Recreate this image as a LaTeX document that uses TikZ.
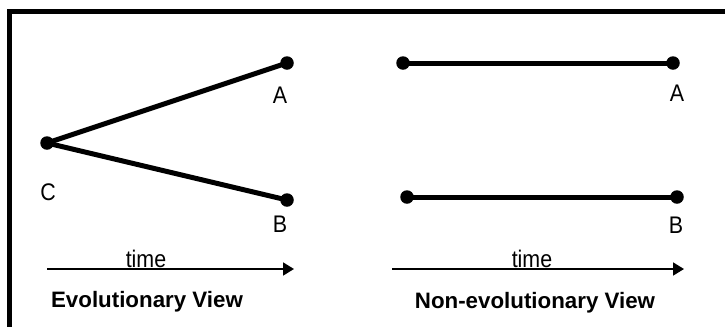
\documentclass[tikz,border=0pt]{standalone}
\usepackage{fontspec}
\setmainfont{Liberation Sans}
\usetikzlibrary{arrows.meta}
\newcommand{\tallt}[1]{\scalebox{1}[1.12]{#1}}
\begin{document}
\begin{tikzpicture}[x=1bp,y=-1bp,
  dot/.style={circle,fill=black,inner sep=0pt,minimum size=13.5bp},
  edge/.style={line width=5bp},
  lbl/.style={inner sep=0pt,anchor=base,font=\fontsize{21.5}{24}\selectfont},
  ttl/.style={inner sep=0pt,anchor=base,font=\fontsize{22.4}{26}\selectfont\bfseries},
  timearrow/.style={line width=1.8bp,-{Triangle[length=11bp,width=13bp]}}]
\useasboundingbox (0,0) rectangle (725,326);
\clip (0,0) rectangle (725,326);
\fill[white] (0,0) rectangle (725,326);
% frame (right and bottom sides lie outside the picture)
\draw[line width=5bp] (9.5,340) -- (9.5,11.5) -- (740,11.5);
% evolutionary view
\node[dot] (C) at (47,143) {};
\node[dot] (A1) at (287,63) {};
\node[dot] (B1) at (287,200) {};
\draw[edge] (C.center) -- (A1.center);
\draw[edge] (C.center) -- (B1.center);
\node[lbl] (lC) at (48,200) {\tallt{C}};
\node[lbl] (lA1) at (280,103) {\tallt{A}};
\node[lbl] (lB1) at (280,232) {\tallt{B}};
% non-evolutionary view
\node[dot] (L1) at (403,63) {};
\node[dot] (A2) at (673,63) {};
\node[dot] (L2) at (407,197) {};
\node[dot] (B2) at (677,197) {};
\draw[edge] (L1.center) -- (A2.center);
\draw[edge] (L2.center) -- (B2.center);
\node[lbl] (lA2) at (677,101) {\tallt{A}};
\node[lbl] (lB2) at (676,233) {\tallt{B}};
% time arrows
\coordinate (t1s) at (47,269);
\coordinate (t1e) at (294,269);
\coordinate (t2s) at (392,269);
\coordinate (t2e) at (684,269);
\draw[timearrow] (t1s) -- (t1e);
\draw[timearrow] (t2s) -- (t2e);
\node[lbl] (time1) at (146,267) {\tallt{time}};
\node[lbl] (time2) at (532,267) {\tallt{time}};
\node[ttl] (ev) at (147,307) {Evolutionary View};
\node[ttl] (nev) at (535,308) {Non-evolutionary View};
\end{tikzpicture}
\end{document}
